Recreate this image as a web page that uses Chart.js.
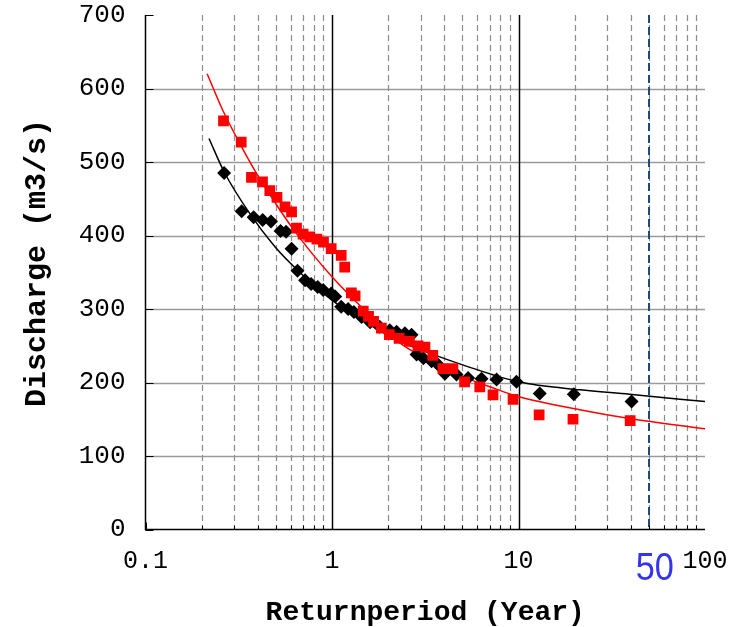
<!DOCTYPE html>
<html>
<head>
<meta charset="utf-8">
<style>
  html, body { margin: 0; padding: 0; background: #ffffff; }
  #wrap { width: 740px; height: 627px; }
</style>
<script src="https://cdn.jsdelivr.net/npm/chart.js@4.4.1/dist/chart.umd.min.js"></script>
</head>
<body>
<div id="wrap"><canvas id="chart" width="740" height="627"></canvas></div>
<script>
// Observed discharges (m3/s) against their plotting-position return period (years)
const seriesAPeriod = [0.264, 0.328, 0.38, 0.425, 0.471, 0.53, 0.567, 0.607, 0.653, 0.717,
  0.773, 0.838, 0.897, 0.99, 1.04, 1.12, 1.22, 1.31, 1.44, 1.60, 1.80, 2.04, 2.22, 2.46,
  2.67, 2.84, 3.09, 3.42, 3.71, 4.03, 4.65, 5.37, 6.34, 7.63, 9.75, 13.0, 19.8, 40.4];
const seriesAFlow = [485, 433, 425, 421, 419, 406, 405, 382, 352, 339,
  334, 330, 326, 321, 317, 303, 300, 296, 289, 282, 276, 271, 269, 267,
  265, 238, 233, 229, 224, 212, 211, 206, 205, 204, 201, 185, 184, 174];

const seriesBPeriod = [0.262, 0.326, 0.37, 0.424, 0.464, 0.507, 0.56, 0.607, 0.645, 0.70,
  0.76, 0.83, 0.90, 0.99, 1.12, 1.17, 1.27, 1.33, 1.47, 1.57, 1.67, 1.84, 2.03, 2.29,
  2.6, 2.89, 3.15, 3.47, 3.93, 4.45, 5.14, 6.2, 7.3, 9.35, 12.9, 19.6, 39.7];
const seriesBFlow = [556, 527, 479, 473, 461, 452, 439, 432, 410, 402,
  398, 395, 391, 382, 373, 357, 322, 318, 297, 290, 283, 274, 265, 260,
  256, 250, 248, 237, 219, 219, 201, 194, 183, 177, 156, 150, 148];

// Fitted frequency curves
const fitAPeriod = [0.219, 0.266, 0.362, 0.493, 0.671, 1.0, 1.53, 2.31, 3.34, 5.02, 9.97, 21.3, 39.4, 100];
const fitAFlow   = [532, 485, 430, 385, 350, 312, 281, 256, 240, 224, 201, 190, 184, 174];

const fitBPeriod = [0.214, 0.260, 0.327, 0.393, 0.483, 0.618, 0.791, 1.0, 1.24, 1.53, 1.88,
  2.31, 3.34, 5.03, 7.60, 9.95, 21.3, 39.4, 100];
const fitBFlow   = [620, 570, 521, 485, 449, 409, 374, 344, 319, 296, 275,
  254, 230, 208, 191, 181, 163, 151, 137];

// Axis ticks and titles
const xTickValues = [0.1, 1, 10, 100];
const xTickLabels = ['0.1', '1', '10', '100'];
const yTickValues = [0, 100, 200, 300, 400, 500, 600, 700];
const xTitle = 'Returnperiod (Year)';
const yTitle = 'Discharge (m3/s)';
const designPeriod = 50;

const toPoints = (xs, ys) => xs.map((x, i) => ({ x: x, y: ys[i] }));

const monoFont = '"Liberation Mono", "DejaVu Sans Mono", monospace';

// Keep the plot box fixed: labels may overhang the layout padding
const noOverhang = (scale) => {
  scale.paddingTop = 0; scale.paddingBottom = 0;
  scale.paddingLeft = 0; scale.paddingRight = 0;
};

// Frame, grid, ticks, the design return period marker and the vertical title
const framePlugin = {
  id: 'frame',
  beforeDatasetsDraw(chart) {
    const { ctx, chartArea: a, scales: { x, y } } = chart;
    ctx.save();
    // horizontal grid
    ctx.strokeStyle = '#9a9a9a';
    ctx.lineWidth = 1.5;
    ctx.setLineDash([]);
    for (const v of yTickValues) {
      if (v === 0 || v === 700) continue;
      const py = Math.round(y.getPixelForValue(v)) + 0.5;
      ctx.beginPath(); ctx.moveTo(a.left, py); ctx.lineTo(a.right, py); ctx.stroke();
    }
    // minor vertical dashed grid
    ctx.strokeStyle = '#8c8c8c';
    ctx.lineWidth = 1.2;
    ctx.setLineDash([6, 4]);
    for (const dec of [0.1, 1, 10]) {
      for (let m = 2; m <= 9; m++) {
        const px = Math.round(x.getPixelForValue(dec * m)) + 0.5;
        ctx.beginPath(); ctx.moveTo(px, a.top); ctx.lineTo(px, a.bottom); ctx.stroke();
      }
    }
    // major vertical lines
    ctx.setLineDash([]);
    ctx.strokeStyle = '#000000';
    ctx.lineWidth = 1.5;
    for (const v of [1, 10]) {
      const px = Math.round(x.getPixelForValue(v)) + 0.5;
      ctx.beginPath(); ctx.moveTo(px, a.top); ctx.lineTo(px, a.bottom); ctx.stroke();
    }
    // design return period line
    ctx.strokeStyle = '#1f4a7e';
    ctx.lineWidth = 2;
    ctx.setLineDash([8, 4]);
    const dx = Math.round(x.getPixelForValue(designPeriod));
    ctx.beginPath(); ctx.moveTo(dx, a.top); ctx.lineTo(dx, a.bottom); ctx.stroke();
    // axes
    ctx.setLineDash([]);
    ctx.strokeStyle = '#000000';
    ctx.lineWidth = 1.5;
    ctx.beginPath();
    ctx.moveTo(a.left, a.top); ctx.lineTo(a.left, a.bottom); ctx.lineTo(a.right, a.bottom);
    ctx.stroke();
    // inner tick marks
    ctx.lineWidth = 1;
    for (const v of yTickValues) {
      const py = Math.round(y.getPixelForValue(v)) + 0.5;
      ctx.beginPath(); ctx.moveTo(a.left, py); ctx.lineTo(a.left + 8, py); ctx.stroke();
    }
    for (const dec of [0.1, 1, 10]) {
      for (let m = 1; m <= 9; m++) {
        const px = Math.round(x.getPixelForValue(dec * m)) + 0.5;
        const len = m === 1 ? 7 : 4;
        ctx.beginPath(); ctx.moveTo(px, a.bottom); ctx.lineTo(px, a.bottom - len); ctx.stroke();
      }
    }
    ctx.restore();
  },
  afterDraw(chart) {
    const { ctx, chartArea: a, scales: { x } } = chart;
    // design period label, slightly condensed
    ctx.save();
    ctx.fillStyle = '#3434f0';
    ctx.font = '39px "Liberation Sans", Arial, sans-serif';
    ctx.textAlign = 'center';
    ctx.textBaseline = 'alphabetic';
    ctx.translate(x.getPixelForValue(designPeriod) + 6, a.bottom + 50.5);
    ctx.scale(0.88, 1);
    ctx.fillText(String(designPeriod), 0, 0);
    ctx.restore();
    // vertical axis title
    ctx.save();
    ctx.fillStyle = '#000000';
    ctx.font = 'bold 30px ' + monoFont;
    ctx.textAlign = 'center';
    ctx.textBaseline = 'alphabetic';
    ctx.translate(45, 263);
    ctx.rotate(-Math.PI / 2);
    ctx.fillText(yTitle, 0, 0);
    ctx.restore();
  }
};

new Chart(document.getElementById('chart'), {
  type: 'scatter',
  data: {
    datasets: [
      {
        label: 'Series B',
        data: toPoints(seriesBPeriod, seriesBFlow),
        pointStyle: 'rect',
        pointRadius: 7.6,
        backgroundColor: '#ff0000',
        borderColor: '#ff0000',
        borderWidth: 0,
        order: 0
      },
      {
        label: 'Series A',
        data: toPoints(seriesAPeriod, seriesAFlow),
        pointStyle: 'rectRot',
        pointRadius: 7,
        backgroundColor: '#000000',
        borderColor: '#000000',
        borderWidth: 0,
        order: 1
      },
      {
        label: 'Fit B',
        data: toPoints(fitBPeriod, fitBFlow),
        showLine: true,
        pointRadius: 0,
        borderColor: '#ff0000',
        borderWidth: 1.5,
        cubicInterpolationMode: 'monotone',
        order: 2
      },
      {
        label: 'Fit A',
        data: toPoints(fitAPeriod, fitAFlow),
        showLine: true,
        pointRadius: 0,
        borderColor: '#000000',
        borderWidth: 1.5,
        cubicInterpolationMode: 'monotone',
        order: 3
      }
    ]
  },
  options: {
    responsive: false,
    devicePixelRatio: 1,
    animation: false,
    layout: { padding: { top: 15, right: 35, left: 0, bottom: 0 } },
    plugins: { legend: { display: false }, tooltip: { enabled: false } },
    scales: {
      x: {
        type: 'logarithmic',
        position: 'bottom',
        min: 0.1,
        max: 100,
        grid: { display: false, drawTicks: false },
        border: { display: false },
        afterBuildTicks(scale) { scale.ticks = xTickValues.map(v => ({ value: v })); },
        afterFit(scale) { scale.height = 97.5; noOverhang(scale); },
        ticks: {
          autoSkip: false,
          maxRotation: 0,
          padding: 17,
          color: '#000000',
          font: { family: monoFont, size: 25 },
          callback(value) {
            const i = xTickValues.indexOf(value);
            return i >= 0 ? xTickLabels[i] : '';
          }
        },
        title: {
          display: true,
          text: xTitle,
          color: '#000000',
          font: { family: monoFont, size: 28, weight: 'bold', lineHeight: 1 },
          padding: { top: 0, bottom: 0.5 }
        }
      },
      y: {
        min: 0,
        max: 700,
        grid: { display: false, drawTicks: false },
        border: { display: false },
        afterBuildTicks(scale) { scale.ticks = yTickValues.map(v => ({ value: v })); },
        afterFit(scale) { scale.width = 145.5; noOverhang(scale); },
        ticks: {
          padding: 20,
          color: '#000000',
          font: { family: monoFont, size: 26 }
        },
        title: { display: false }
      }
    }
  },
  plugins: [framePlugin]
});
</script>
</body>
</html>
